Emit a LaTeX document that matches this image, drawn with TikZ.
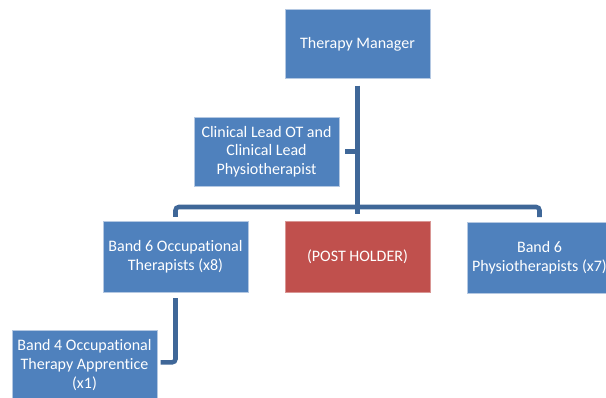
\documentclass[tikz,border=0pt]{standalone}
\usepackage{fontspec}
\setmainfont[Ligatures=NoCommon]{Carlito}
\definecolor{boxblue}{HTML}{4F81BD}
\definecolor{boxred}{HTML}{C0504D}
\definecolor{linkblue}{HTML}{3F6798}
\definecolor{boxedge}{HTML}{B4C8E2}
\begin{document}
\begin{tikzpicture}[x=0.75pt,y=-0.75pt,
  orgbox/.style={draw=boxedge, line width=0.5pt, fill=boxblue, text=white,
    font=\fontsize{12}{14}\selectfont, align=center,
    minimum width=108.75pt, minimum height=52pt, inner sep=0pt},
  redbox/.style={orgbox, fill=boxred, draw=boxred!60!white},
  link/.style={draw=linkblue, line width=3.4pt, rounded corners=2.5pt}]
\useasboundingbox (0,0) rectangle (606,397);
\fill[white] (0,0) rectangle (606,397);
\node[orgbox] (mgr) at (357.5,44) {Therapy Manager};
\node[orgbox] (cl) at (266.5,151.5) {Clinical Lead OT and\\Clinical Lead\\Physiotherapist};
\node[orgbox, minimum height=53pt] (ot) at (175.5,256.5) {Band 6 Occupational\\Therapists (x8)};
\node[redbox, minimum height=53pt] (post) at (357.5,256.5) {(POST HOLDER)};
\node[orgbox, minimum height=53pt] (phys) at (539.5,257.5) {Band 6\\Physiotherapists (x7)};
\node[orgbox] (b4) at (84.5,365) {Band 4 Occupational\\Therapy Apprentice\\(x1)};
\coordinate (bar) at (357.5,207);
\draw[link, rounded corners=0pt] ([yshift=-5pt]mgr.south) -- ([yshift=5pt]mgr.south |- post.north);
\draw[link] ([yshift=3pt]ot.north) |- (bar) -| ([yshift=3.5pt]phys.north);
\draw[link, rounded corners=0pt] ([xshift=4.5pt]cl.east) -- (cl.east -| mgr.south);
\draw[link] ([yshift=-4.5pt]ot.south) |- ([xshift=2.5pt,yshift=2pt]b4.east);
\end{tikzpicture}
\end{document}
